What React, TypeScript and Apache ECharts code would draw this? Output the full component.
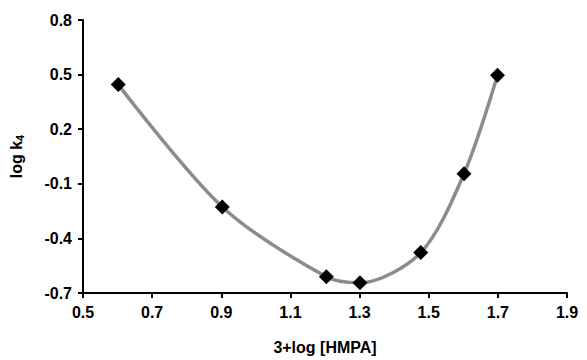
import React, { useEffect, useRef } from "react";
import * as echarts from "echarts";

const xValues = [0.602, 0.903, 1.204, 1.301, 1.477, 1.602, 1.699];
const yValues = [0.445, -0.227, -0.611, -0.644, -0.478, -0.045, 0.496];
const xTicks = { min: 0.5, max: 1.9, interval: 0.2 };
const yTicks = { min: -0.7, max: 0.8, interval: 0.3 };

export default function App() {
  const ref = useRef<HTMLDivElement>(null);
  useEffect(() => {
    if (!ref.current) return;
    const chart = echarts.init(ref.current, undefined, { renderer: "svg" });
    const font = "Liberation Sans, Arial, sans-serif";
    const axisCommon = {
      axisLine: { show: true, onZero: false, lineStyle: { color: "#000", width: 2 } },
      axisTick: { show: true, inside: false, length: 5, lineStyle: { color: "#000", width: 2 } },
      splitLine: { show: false },
      axisLabel: {
        color: "#000",
        fontWeight: "bold",
        fontSize: 16,
        fontFamily: font,
        formatter: (v: number) => v.toFixed(1),
      },
    };
    chart.setOption({
      animation: false,
      backgroundColor: "#fff",
      grid: { left: 82, right: 20, top: 20, bottom: 64, containLabel: false },
      xAxis: {
        type: "value",
        ...xTicks,
        ...axisCommon,
        axisLabel: { ...axisCommon.axisLabel, margin: 11 },
        name: "3+log [HMPA]",
        nameLocation: "middle",
        nameGap: 46,
        nameTextStyle: { color: "#000", fontWeight: "bold", fontSize: 16, fontFamily: font },
      },
      yAxis: {
        type: "value",
        ...yTicks,
        ...axisCommon,
        axisLabel: { ...axisCommon.axisLabel, margin: 11 },
        name: "{a|log k}{s|4}",
        nameLocation: "middle",
        nameGap: 58,
        nameRotate: 90,
        nameTextStyle: {
          color: "#000",
          fontWeight: "bold",
          fontSize: 16,
          fontFamily: font,
          rich: {
            a: { color: "#000", fontWeight: "bold", fontSize: 16, fontFamily: font },
            s: { color: "#000", fontWeight: "bold", fontSize: 11, fontFamily: font, verticalAlign: "bottom", padding: [7, 0, 0, 0] },
          },
        },
      },
      series: [
        {
          type: "line",
          data: xValues.map((x, i) => [x, yValues[i]]),
          smooth: 0.3,
          lineStyle: { color: "#8c8c8c", width: 3.5 },
          symbol: "diamond",
          symbolSize: 15,
          itemStyle: { color: "#000" },
          showSymbol: true,
        },
      ],
    });
    return () => chart.dispose();
  }, []);
  return (
    <div
      ref={ref}
      style={{ position: "fixed", left: 0, top: 0, width: 587, height: 360 }}
    />
  );
}
